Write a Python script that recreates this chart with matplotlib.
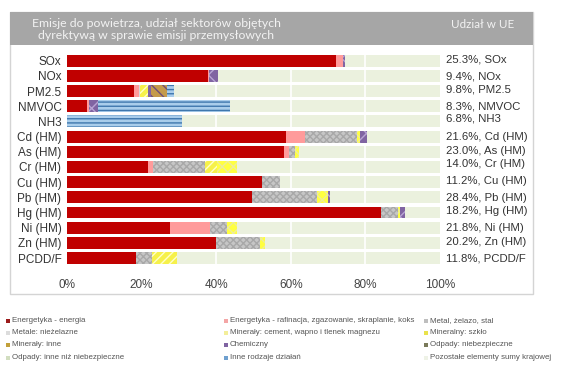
import matplotlib
matplotlib.use("Agg")
import matplotlib.pyplot as plt
from matplotlib.patches import Rectangle

plt.rcParams["hatch.linewidth"] = 1.0

NARROW = ["Liberation Sans Narrow", "Liberation Sans", "DejaVu Sans"]
TITLE_FONT = ["Lato", "DejaVu Sans"]

# --- data -----------------------------------------------------------------
categories = ["SOx", "NOx", "PM2.5", "NMVOC", "NH3", "Cd (HM)", "As (HM)",
              "Cr (HM)", "Cu (HM)", "Pb (HM)", "Hg (HM)", "Ni (HM)",
              "Zn (HM)", "PCDD/F"]

energia        = [72.1, 37.7, 18.0, 5.4, 0.0, 58.7, 58.2, 21.6, 52.4, 49.5, 84.1, 27.6, 39.9, 18.4]
rafinacja      = [1.8, 0.3, 1.2, 0.5, 0.0, 5.2, 1.2, 1.5, 0.0, 0.0, 0.0, 10.7, 0.0, 0.0]
metal_stal     = [0.0, 0.0, 0.0, 0.0, 0.0, 13.9, 1.6, 13.9, 4.6, 17.6, 4.7, 4.5, 11.8, 4.3]
metale_niezel  = [0.0, 0.0, 0.3, 0.0, 0.0, 0.0, 0.0, 0.0, 0.0, 0.0, 0.0, 0.0, 0.0, 0.0]
min_cement     = [0.0, 0.0, 2.3, 0.0, 0.0, 0.0, 0.0, 3.1, 0.0, 0.0, 0.0, 0.0, 0.0, 6.7]
min_szklo      = [0.0, 0.0, 0.0, 0.0, 0.0, 0.7, 1.2, 5.4, 0.0, 2.8, 0.4, 2.9, 1.3, 0.0]
min_inne       = [0.0] * 14
chemiczny      = [0.7, 2.4, 0.8, 2.5, 0.0, 1.9, 0.0, 0.0, 0.0, 0.5, 1.3, 0.0, 0.0, 0.0]
odpady_niebezp = [0.0, 0.0, 4.3, 0.0, 0.0, 0.0, 0.0, 0.0, 0.0, 0.0, 0.0, 0.0, 0.0, 0.0]
odpady_inne    = [0.0] * 14
inne_dzialania = [0.0, 0.0, 1.8, 35.4, 30.7, 0.0, 0.0, 0.0, 0.0, 0.0, 0.0, 0.0, 0.0, 0.0]
pozostale      = [25.4, 59.6, 71.3, 56.2, 69.3, 19.6, 37.8, 54.5, 43.0, 29.6, 9.5, 54.3, 47.0, 70.6]

eu_share = ["25.3%, SOx", "9.4%, NOx", "9.8%, PM2.5", "8.3%, NMVOC", "6.8%, NH3",
            "21.6%, Cd (HM)", "23.0%, As (HM)", "14.0%, Cr (HM)", "11.2%, Cu (HM)",
            "28.4%, Pb (HM)", "18.2%, Hg (HM)", "21.8%, Ni (HM)", "20.2%, Zn (HM)",
            "11.8%, PCDD/F"]

x_ticks = [0, 20, 40, 60, 80, 100]
x_tick_labels = ["0%", "20%", "40%", "60%", "80%", "100%"]

series_names = ["Energetyka - energia",
                "Energetyka - rafinacja, zgazowanie, skraplanie, koks",
                "Metal, żelazo, stal",
                "Metale: nieżelazne",
                "Minerały: cement, wapno i tlenek magnezu",
                "Mineralny: szkło",
                "Minerały: inne",
                "Chemiczny",
                "Odpady: niebezpieczne",
                "Odpady: inne niż niebezpieczne",
                "Inne rodzaje działań",
                "Pozostałe elementy sumy krajowej"]
series_values = [energia, rafinacja, metal_stal, metale_niezel, min_cement,
                 min_szklo, min_inne, chemiczny, odpady_niebezp, odpady_inne,
                 inne_dzialania, pozostale]

# face colour, hatch, hatch colour, legend marker colour
styles = [
    ("#C00000", None, "#C00000", "#9B1B1B"),
    ("#FF9B9B", None, "#FF9B9B", "#F4A6A6"),
    ("#C6C6C6", "xxxxx", "#A8A8A8", "#BEBEBE"),
    ("#DADADA", None, "#DADADA", "#DCDCDC"),
    ("#F6F14A", "////", "#FFFFC8", "#F3EE9A"),
    ("#FFFF40", "xxx", "#EDED9A", "#E9E24C"),
    ("#C9A227", None, "#C9A227", "#C2A03A"),
    ("#8064A2", "xx", "#B8A4D4", "#8064A2"),
    ("#C49A4A", "\\\\\\", "#6E4E7A", "#7A7A5A"),
    ("#D7E4BD", "---", "#B4C494", "#D2DEC0"),
    ("#A9CDEB", "----", "#3F77AD", "#6FA0CF"),
    ("#EBF1DE", None, "#EBF1DE", "#EEF2E6"),
]

# vertical nudges (in row units) for the EU share notes
note_shift = [-0.1, 0.07, -0.13, 0.0, -0.2, 0.0, -0.03, -0.22, -0.07, 0.07, -0.1, 0.0, -0.07, 0.0]

W, H = 580, 368
fig = plt.figure(figsize=(W / 100, H / 100), dpi=100)
fig.patch.set_facecolor("white")


def fx(px):
    return px / W


def fy(py):
    return 1 - py / H


# outer frame and header band
fig.add_artist(Rectangle((fx(10), fy(294)), fx(523), (294 - 12) / H,
                         transform=fig.transFigure, facecolor="none",
                         edgecolor="#D4D4D4", linewidth=1.0, zorder=0))
fig.add_artist(Rectangle((fx(10), fy(45)), fx(523), (45 - 12) / H,
                         transform=fig.transFigure, facecolor="#A6A6A6",
                         edgecolor="none", zorder=1))
fig.text(fx(156), fy(29.5), "Emisje do powietrza, udział sektorów objętych\n"
         "dyrektywą w sprawie emisji przemysłowych",
         ha="center", va="center", color="#F2F2F2", fontsize=8.8,
         family=TITLE_FONT, linespacing=1.15)
fig.text(fx(483), fy(24), "Udział w UE", ha="center", va="center",
         color="#F2F2F2", fontsize=8.4, family=TITLE_FONT)

# stacked bars
ax = fig.add_axes([fx(67), fy(265.6), 373 / W, 212.5 / H])
ypos = list(range(len(categories)))
left = [0.0] * len(categories)
for vals, (face, hatch, hcol, _), name in zip(series_values, styles, series_names):
    z = 1 if name.startswith("Pozosta") else 3
    ax.barh(ypos, vals, left=left, height=0.78, color=face,
            edgecolor=hcol, linewidth=0, hatch=hatch, zorder=z)
    left = [l + v for l, v in zip(left, vals)]

for gx in x_ticks[1:-1]:
    ax.axvline(gx, color="white", linewidth=1.2, zorder=2)

ax.set_xlim(0, 100)
ax.set_ylim(len(categories) - 0.5, -0.5)
ax.set_yticks(ypos)
ax.set_yticklabels(categories, family=NARROW, fontsize=8.5, color="#333333")
ax.set_xticks(x_ticks)
ax.set_xticklabels(x_tick_labels, family=NARROW, fontsize=8.5, color="#444444")
ax.tick_params(axis="both", length=0)
ax.tick_params(axis="y", pad=4)
ax.tick_params(axis="x", pad=10)
for s in ax.spines.values():
    s.set_visible(False)
ax.set_facecolor("white")

# EU share notes on the right
for i, (txt, sh) in enumerate(zip(eu_share, note_shift)):
    ax.text(101.6, i + sh, txt, ha="left", va="center", family=NARROW,
            fontsize=8.2, color="#333333", clip_on=False)

# legend, three columns
col_x = [6, 224, 424]
row_y = [320.5, 333, 345, 357.5]
for k, (name, st) in enumerate(zip(series_names, styles)):
    r, c = divmod(k, 3)
    mx, my = col_x[c], row_y[r]
    fig.add_artist(Rectangle((fx(mx), fy(my + 2)), 4 / W, 4 / H,
                             transform=fig.transFigure, facecolor=st[3],
                             edgecolor="none"))
    fig.text(fx(mx + 6), fy(my), name, ha="left", va="center",
             fontsize=5.7, color="#555555", family=NARROW)

fig.savefig("out.png", dpi=100, facecolor="white")
